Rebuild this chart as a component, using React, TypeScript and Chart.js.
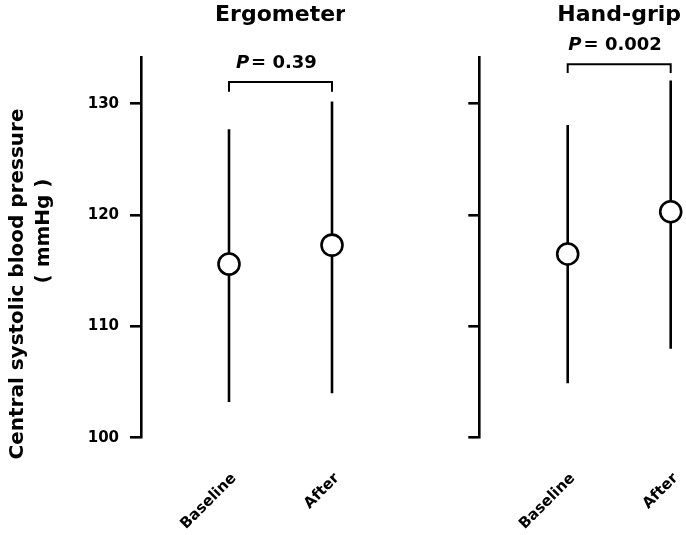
import React, { useEffect, useRef } from 'react';
import { Chart, registerables } from 'chart.js';
Chart.register(...registerables);

const categories = ['Baseline', 'After'];
const yTicks = [100, 110, 120, 130];
const ergoMean = [115.6, 117.3];
const ergoLow = [103.2, 104.0];
const ergoHigh = [127.7, 130.2];
const gripMean = [116.5, 120.3];
const gripLow = [104.9, 108.0];
const gripHigh = [128.1, 132.1];
const panelTitles = ['Ergometer', 'Hand-grip'];
const pValues = ['0.39', '0.002'];
const bracketTop = [131.96, 133.55];
const bracketEnd = [131.07, 132.77];
const yTitleLines = ['Central systolic blood pressure', '( mmHg )'];

const FONT = '"DejaVu Sans", Verdana, sans-serif';

type PanelProps = {
  left: number;
  width: number;
  axisX: number;
  firstX: number;
  mean: number[];
  low: number[];
  high: number[];
  bTop: number;
  bEnd: number;
  title: string;
  p: string;
  showYLabels: boolean;
};

const H = 535;
const TOP = 57;
const BOTTOM = 437.7;
const SPACING = 103;

function Panel(props: PanelProps) {
  const ref = useRef<HTMLCanvasElement | null>(null);
  useEffect(() => {
    const canvas = ref.current!;
    const xMin = -(props.firstX - props.axisX) / SPACING;
    const xMax = 1 + (props.width - (props.firstX + SPACING)) / SPACING;

    const overlay = {
      id: 'overlay',
      afterDatasetsDraw(chart: any) {
        const ctx = chart.ctx;
        const xs = chart.scales.x;
        const ys = chart.scales.y;
        ctx.save();
        ctx.fillStyle = '#000';
        // panel title
        ctx.font = `bold 22px ${FONT}`;
        ctx.textAlign = 'center';
        ctx.textBaseline = 'alphabetic';
        ctx.fillText(props.title, xs.getPixelForValue(0.5), 21);
        // p value
        const italicFont = `italic bold 18px ${FONT}`;
        const boldFont = `bold 18px ${FONT}`;
        const rest = '= ' + props.p;
        ctx.font = italicFont;
        const wP = ctx.measureText('P').width;
        ctx.font = boldFont;
        const wR = ctx.measureText(rest).width;
        const gap = 2;
        const total = wP + gap + wR;
        const cx = xs.getPixelForValue(0.46);
        const py = ys.getPixelForValue(props.bTop) - 18.5;
        ctx.textBaseline = 'middle';
        ctx.textAlign = 'left';
        ctx.font = italicFont;
        ctx.fillText('P', cx - total / 2, py);
        ctx.font = boldFont;
        ctx.fillText(rest, cx - total / 2 + wP + gap, py);
        // y title
        if (props.showYLabels) {
          ctx.font = `bold 20px ${FONT}`;
          ctx.textAlign = 'center';
          ctx.textBaseline = 'middle';
          ctx.save();
          ctx.translate(18, 284);
          ctx.rotate(-Math.PI / 2);
          ctx.fillText(yTitleLines[0], 0, 0);
          ctx.restore();
          ctx.save();
          ctx.translate(44, 231);
          ctx.rotate(-Math.PI / 2);
          ctx.fillText(yTitleLines[1], 0, 0);
          ctx.restore();
        }
        ctx.restore();
      },
    };

    const errorSets = categories.map((_, i) => ({
      data: [
        { x: i, y: props.low[i] },
        { x: i, y: props.high[i] },
      ],
      showLine: true,
      borderColor: '#000',
      borderWidth: 2.6,
      pointRadius: 0,
      clip: false,
      order: 2,
    }));

    const chart = new Chart(canvas, {
      type: 'scatter',
      data: {
        datasets: [
          {
            data: categories.map((_, i) => ({ x: i, y: props.mean[i] })),
            showLine: false,
            pointRadius: 10.5,
            pointBackgroundColor: '#fff',
            pointBorderColor: '#000',
            pointBorderWidth: 2.6,
            clip: false,
            order: 0,
          } as any,
          ...errorSets,
          {
            data: [
              { x: 0, y: props.bEnd },
              { x: 0, y: props.bTop },
              { x: 1, y: props.bTop },
              { x: 1, y: props.bEnd },
            ],
            showLine: true,
            borderColor: '#000',
            borderWidth: 2,
            pointRadius: 0,
            clip: false,
            order: 2,
          },
        ],
      },
      options: {
        responsive: false,
        animation: false,
        events: [],
        layout: { autoPadding: false, padding: { top: TOP, left: 0, right: 0, bottom: 0 } },
        plugins: { legend: { display: false }, tooltip: { enabled: false } },
        scales: {
          x: {
            type: 'linear',
            min: xMin,
            max: xMax,
            afterFit: (s: any) => {
              s.height = H - BOTTOM;
              s.paddingLeft = 0;
              s.paddingRight = 0;
              s.paddingTop = 0;
              s.paddingBottom = 0;
            },
            afterBuildTicks: (s: any) => {
              s.ticks = categories.map((_, i) => ({ value: i }));
            },
            grid: { display: false, drawTicks: false, tickLength: 0 },
            border: { display: false },
            ticks: {
              autoSkip: false,
              maxRotation: 45,
              minRotation: 45,
              padding: 32,
              labelOffset: 5,
              color: '#000',
              font: { family: FONT, size: 15, weight: 'bold' },
              callback: (v: any) => categories[Number(v)] ?? '',
            },
          },
          y: {
            type: 'linear',
            min: 100,
            max: 134.2,
            afterFit: (s: any) => {
              s.width = props.axisX;
              s.paddingTop = 0;
              s.paddingBottom = 0;
              s.paddingLeft = 0;
              s.paddingRight = 0;
            },
            afterBuildTicks: (s: any) => {
              s.ticks = yTicks.map((v) => ({ value: v }));
            },
            grid: {
              display: true,
              drawOnChartArea: false,
              drawTicks: true,
              tickLength: 11,
              color: '#000',
              lineWidth: 2.6,
            },
            border: { display: true, color: '#000', width: 2.6 },
            ticks: {
              padding: 11,
              color: '#000',
              font: { family: FONT, size: 15, weight: 'bold' },
              callback: (v: any) => (props.showYLabels ? String(v) : ''),
            },
          },
        },
      },
      plugins: [overlay],
    } as any);
    return () => chart.destroy();
  }, []);
  return (
    <div style={{ position: 'absolute', left: props.left, top: 0, width: props.width, height: H }}>
      <canvas ref={ref} width={props.width} height={H} style={{ width: props.width, height: H, display: 'block' }} />
    </div>
  );
}

export default function App() {
  return (
    <div style={{ position: 'absolute', left: 0, top: 0, width: 686, height: H, background: '#fff', overflow: 'hidden' }}>
      <Panel
        left={0}
        width={345}
        axisX={141}
        firstX={229}
        mean={ergoMean}
        low={ergoLow}
        high={ergoHigh}
        bTop={bracketTop[0]}
        bEnd={bracketEnd[0]}
        title={panelTitles[0]}
        p={pValues[0]}
        showYLabels={true}
      />
      <Panel
        left={345}
        width={341}
        axisX={134.3}
        firstX={222.7}
        mean={gripMean}
        low={gripLow}
        high={gripHigh}
        bTop={bracketTop[1]}
        bEnd={bracketEnd[1]}
        title={panelTitles[1]}
        p={pValues[1]}
        showYLabels={false}
      />
    </div>
  );
}
